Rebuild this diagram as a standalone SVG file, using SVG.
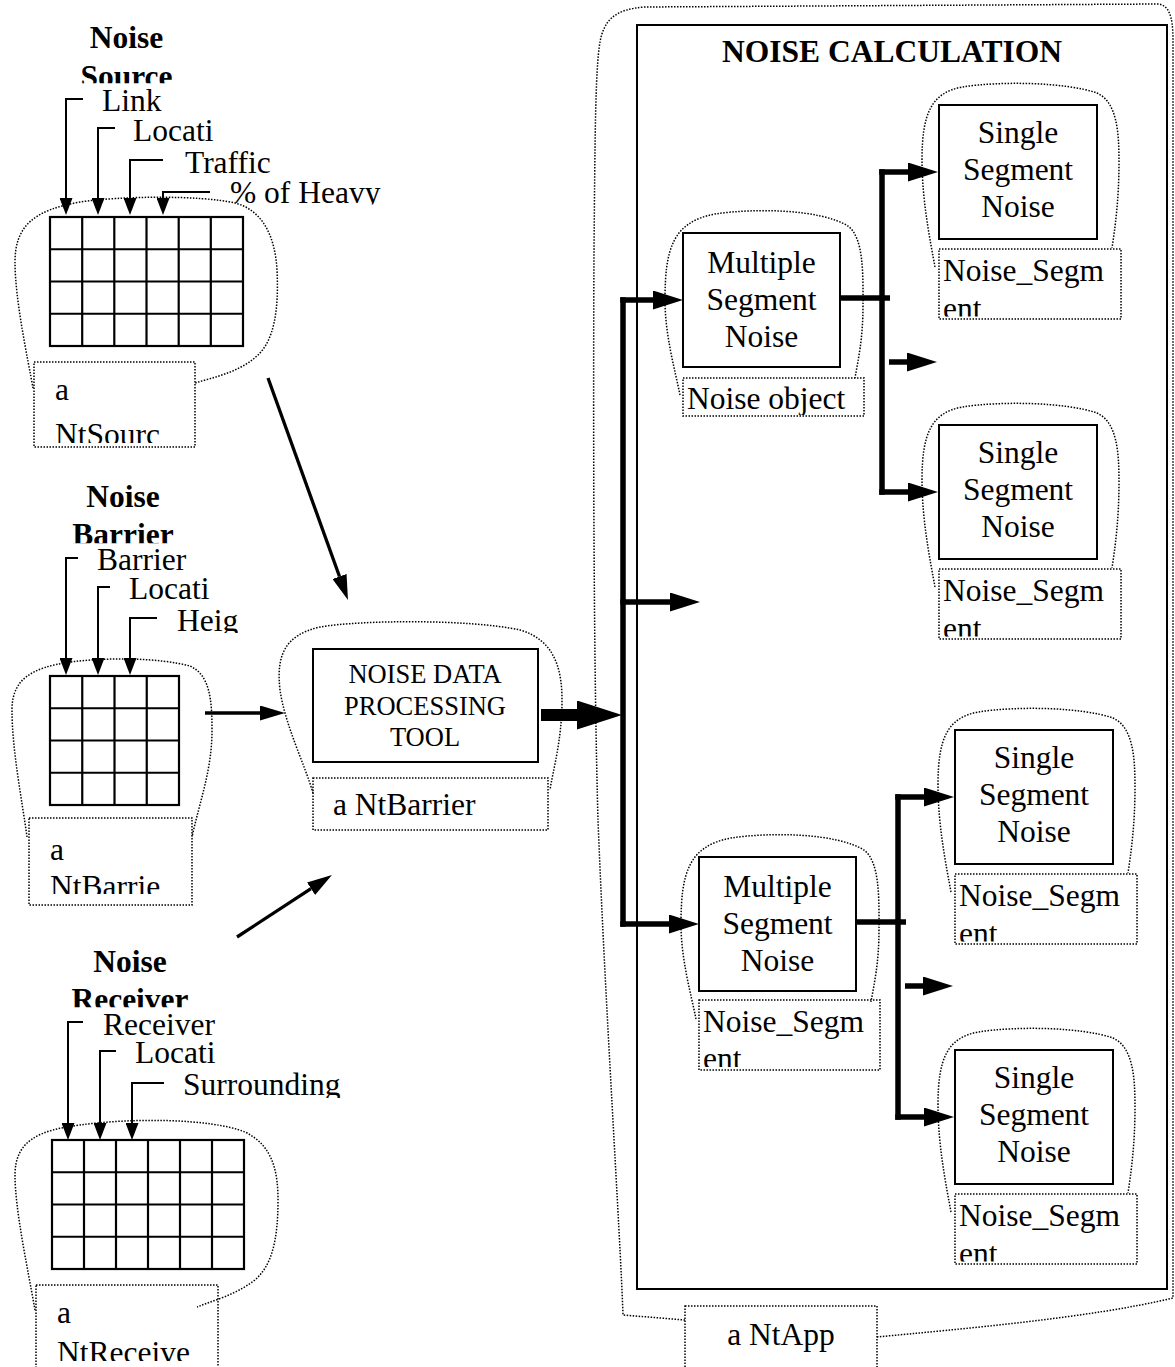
<svg xmlns="http://www.w3.org/2000/svg" width="1175" height="1367" viewBox="0 0 1175 1367">
<style>
.solid{fill:none;stroke:#000;stroke-width:2}
.dot{fill:none;stroke:#000;stroke-width:1.5;stroke-dasharray:1.5 1.5}
.t{font-family:"Liberation Serif","Times New Roman",serif;font-size:31.5px;fill:#000}
.b{font-weight:bold}
.mid{text-anchor:middle}
.tool{font-size:26.5px}
.lead{fill:none;stroke:#000;stroke-width:2}
.diag{fill:none;stroke:#000;stroke-width:3.3}
.br{fill:none;stroke:#000;stroke-width:5.5}
.big{fill:none;stroke:#000;stroke-width:12}
.grid{fill:none;stroke:#000;stroke-width:2.2}
</style>
<defs>
<marker id="ahLead" markerUnits="userSpaceOnUse" markerWidth="17" markerHeight="13" refX="0" refY="6.5" orient="auto" viewBox="0 0 17 13"><path d="M0,0 L17,6.5 L0,13 Z" fill="#000"/></marker>
<marker id="ahDiag" markerUnits="userSpaceOnUse" markerWidth="25" markerHeight="15" refX="0" refY="7.5" orient="auto" viewBox="0 0 25 15"><path d="M0,0 L25,7.5 L0,15 Z" fill="#000"/></marker>
<marker id="ahBr" markerUnits="userSpaceOnUse" markerWidth="30" markerHeight="19" refX="0" refY="9.5" orient="auto" viewBox="0 0 30 19"><path d="M0,0 L30,9.5 L0,19 Z" fill="#000"/></marker>
<marker id="ahBig" markerUnits="userSpaceOnUse" markerWidth="45" markerHeight="29" refX="0" refY="14.5" orient="auto" viewBox="0 0 45 29"><path d="M0,0 L45,14.5 L0,29 Z" fill="#000"/></marker>
<clipPath id="cSrcTitle"><rect x="0" y="0" width="400" height="83.3"/></clipPath>
<clipPath id="cSrcAttr"><rect x="0" y="170" width="400" height="34.5"/></clipPath>
<clipPath id="cSrcLbl"><rect x="34" y="362" width="161" height="81"/></clipPath>
<clipPath id="cBarTitle"><rect x="0" y="470" width="400" height="73.3"/></clipPath>
<clipPath id="cBarAttr"><rect x="0" y="600" width="400" height="33"/></clipPath>
<clipPath id="cBarLbl"><rect x="29" y="818" width="163" height="76"/></clipPath>
<clipPath id="cRecTitle"><rect x="0" y="930" width="400" height="77.3"/></clipPath>
<clipPath id="cRecAttr"><rect x="0" y="1065" width="400" height="33"/></clipPath>
<clipPath id="cRecLbl"><rect x="36" y="1285" width="182" height="76"/></clipPath>
<clipPath id="cSeg"><rect x="939" y="249" width="182" height="67.5"/></clipPath>
<clipPath id="cObj"><rect x="683" y="378" width="181" height="37"/></clipPath>
<clipPath id="cMSeg"><rect x="683" y="376" width="181" height="67"/></clipPath>
</defs>
<rect x="0" y="0" width="1175" height="1367" fill="#fff"/>

<g id="noise-source">
<g clip-path="url(#cSrcTitle)"><text class="t b mid" x="126.5" y="48">Noise</text><text class="t b mid" x="126.5" y="86.5">Source</text></g>
<text class="t" x="102" y="111">Link</text>
<text class="t" x="133" y="141">Locati</text>
<text class="t" x="185" y="172.7">Traffic</text>
<g clip-path="url(#cSrcAttr)"><text class="t" x="230" y="202.7">% of Heavy</text></g>
<path class="lead" d="M83 99 H66 V198" marker-end="url(#ahLead)"/>
<path class="lead" d="M115 128 H98 V198" marker-end="url(#ahLead)"/>
<path class="lead" d="M163 160 H130 V198" marker-end="url(#ahLead)"/>
<path class="lead" d="M210 192 H163 V198" marker-end="url(#ahLead)"/>
<path class="dot" d="M33 388 C28 360,15 300,15 262 C15 225,35 210,80 202 C120 196,200 195,235 203 C262 210,275 235,277 270 C279 310,274 340,258 355 C240 372,215 377,195 383"/>
<rect class="grid" x="50" y="217" width="193" height="129"/>
<path class="grid" d="M82.2 217V346 M114.3 217V346 M146.5 217V346 M178.7 217V346 M210.8 217V346 M50 249.25H243 M50 281.5H243 M50 313.75H243"/>
<rect class="dot" x="34" y="362" width="161" height="85"/>
<g clip-path="url(#cSrcLbl)"><text class="t" x="55" y="400">a</text><text class="t" x="55" y="445">NtSourc</text></g>
</g>

<g id="noise-barrier">
<g clip-path="url(#cBarTitle)"><text class="t b mid" x="123" y="506.7">Noise</text><text class="t b mid" x="123" y="545">Barrier</text></g>
<text class="t" x="97" y="570">Barrier</text>
<text class="t" x="129" y="599.3">Locati</text>
<g clip-path="url(#cBarAttr)"><text class="t" x="177" y="631">Heig</text></g>
<path class="lead" d="M78 558 H66 V658" marker-end="url(#ahLead)"/>
<path class="lead" d="M110 587 H98 V658" marker-end="url(#ahLead)"/>
<path class="lead" d="M157 618 H130 V658" marker-end="url(#ahLead)"/>
<path class="dot" d="M27 837 C22 800,12 750,12 710 C12 680,30 668,70 662 C110 657,160 658,190 666 C210 675,212 700,212 730 C212 770,200 800,192 837"/>
<rect class="grid" x="50" y="676" width="129" height="129"/>
<path class="grid" d="M82.25 676V805 M114.5 676V805 M146.75 676V805 M50 708.25H179 M50 740.5H179 M50 772.75H179"/>
<rect class="dot" x="29" y="818" width="163" height="87"/>
<g clip-path="url(#cBarLbl)"><text class="t" x="50" y="860">a</text><text class="t" x="50" y="897">NtBarrie</text></g>
</g>

<g id="noise-receiver">
<g clip-path="url(#cRecTitle)"><text class="t b mid" x="130" y="971.7">Noise</text><text class="t b mid" x="130" y="1010">Receiver</text></g>
<text class="t" x="103" y="1035">Receiver</text>
<text class="t" x="135" y="1063.3">Locati</text>
<g clip-path="url(#cRecAttr)"><text class="t" x="183" y="1095">Surrounding</text></g>
<path class="lead" d="M83 1022 H68 V1123" marker-end="url(#ahLead)"/>
<path class="lead" d="M116 1051 H100 V1123" marker-end="url(#ahLead)"/>
<path class="lead" d="M164 1083 H132 V1123" marker-end="url(#ahLead)"/>
<path class="dot" d="M35 1310 C28 1270,15 1210,15 1175 C15 1140,40 1130,80 1125 C130 1118,210 1118,245 1132 C272 1145,278 1170,278 1200 C278 1240,272 1265,255 1280 C235 1295,215 1300,197 1307"/>
<rect class="grid" x="52" y="1140" width="192" height="129"/>
<path class="grid" d="M84 1140V1269 M116 1140V1269 M148 1140V1269 M180 1140V1269 M212 1140V1269 M52 1172.25H244 M52 1204.5H244 M52 1236.75H244"/>
<rect class="dot" x="36" y="1285" width="182" height="95"/>
<g clip-path="url(#cRecLbl)"><text class="t" x="57" y="1323">a</text><text class="t" x="57" y="1363">NtReceive</text></g>
</g>

<g id="processing-tool">
<path class="dot" d="M313 793 C305 765,285 725,280 690 C276 655,285 635,320 627 C360 620,470 619,520 630 C555 640,562 670,562 700 C562 740,553 770,550 790"/>
<rect class="solid" x="313" y="649" width="225" height="113"/>
<text class="t tool mid" x="425" y="683.3">NOISE DATA</text>
<text class="t tool mid" x="425" y="715">PROCESSING</text>
<text class="t tool mid" x="425" y="745.7">TOOL</text>
<rect class="dot" x="313" y="778" width="235" height="52"/>
<text class="t" x="333" y="815">a NtBarrier</text>
</g>

<g id="noise-calculation">
<path class="dot" d="M685 1320 L623 1315 C620 1230,605 1000,598 820 C594 680,593 450,594 250 C595 150,595 70,600 42 C604 20,615 9,645 7 L1158 4 C1168 5,1173 14,1173 40 L1173 1298 C1090 1318,960 1329,877 1337"/>
<rect class="solid" x="637" y="25" width="530" height="1264"/>
<text class="t b mid" x="892" y="62">NOISE CALCULATION</text>
<rect class="dot" x="685" y="1306" width="192" height="80"/>
<text class="t mid" x="781" y="1345">a NtApp</text>
</g>

<g id="multiple-1">
<path class="dot" d="M680 395 C675 370,665 335,665 300 C665 250,672 222,715 214 C755 208,820 209,848 226 C864 238,863 275,863 305 C863 340,858 360,855 378"/>
<rect class="solid" x="683" y="233" width="157" height="134"/>
<text class="t mid" x="761.5" y="272.7">Multiple</text>
<text class="t mid" x="761.5" y="309.5">Segment</text>
<text class="t mid" x="761.5" y="346.5">Noise</text>
<rect class="dot" x="683" y="378" width="181" height="38"/>
<g clip-path="url(#cObj)"><text class="t" x="687" y="409">Noise object</text></g>
</g>

<g id="single-1">
<path class="dot" d="M935 267 C930 240,922 200,922 160 C922 112,932 93,962 87 C1000 81,1065 82,1097 93 C1117 102,1119 132,1119 162 C1119 200,1115 228,1112 248"/>
<rect class="solid" x="939" y="105" width="158" height="134"/>
<text class="t mid" x="1018" y="143">Single</text>
<text class="t mid" x="1018" y="180">Segment</text>
<text class="t mid" x="1018" y="217">Noise</text>
<rect class="dot" x="939" y="249" width="182" height="70"/>
<g clip-path="url(#cSeg)"><text class="t" x="943" y="281">Noise_Segm</text><text class="t" x="943" y="318.5">ent</text></g>
</g>

<g id="single-2" transform="translate(0,320)">
<path class="dot" d="M935 267 C930 240,922 200,922 160 C922 112,932 93,962 87 C1000 81,1065 82,1097 93 C1117 102,1119 132,1119 162 C1119 200,1115 228,1112 248"/>
<rect class="solid" x="939" y="105" width="158" height="134"/>
<text class="t mid" x="1018" y="143">Single</text>
<text class="t mid" x="1018" y="180">Segment</text>
<text class="t mid" x="1018" y="217">Noise</text>
<rect class="dot" x="939" y="249" width="182" height="70"/>
<g clip-path="url(#cSeg)"><text class="t" x="943" y="281">Noise_Segm</text><text class="t" x="943" y="318.5">ent</text></g>
</g>

<g id="multiple-2" transform="translate(16,624)">
<path class="dot" d="M680 395 C675 370,665 335,665 300 C665 250,672 222,715 214 C755 208,820 209,848 226 C864 238,863 275,863 305 C863 340,858 360,855 378"/>
<rect class="solid" x="683" y="233" width="157" height="134"/>
<text class="t mid" x="761.5" y="272.7">Multiple</text>
<text class="t mid" x="761.5" y="309.5">Segment</text>
<text class="t mid" x="761.5" y="346.5">Noise</text>
<rect class="dot" x="683" y="376" width="181" height="70"/>
<g clip-path="url(#cMSeg)"><text class="t" x="687" y="408">Noise_Segm</text><text class="t" x="687" y="445">ent</text></g>
</g>

<g id="single-3" transform="translate(16,625)">
<path class="dot" d="M935 267 C930 240,922 200,922 160 C922 112,932 93,962 87 C1000 81,1065 82,1097 93 C1117 102,1119 132,1119 162 C1119 200,1115 228,1112 248"/>
<rect class="solid" x="939" y="105" width="158" height="134"/>
<text class="t mid" x="1018" y="143">Single</text>
<text class="t mid" x="1018" y="180">Segment</text>
<text class="t mid" x="1018" y="217">Noise</text>
<rect class="dot" x="939" y="249" width="182" height="70"/>
<g clip-path="url(#cSeg)"><text class="t" x="943" y="281">Noise_Segm</text><text class="t" x="943" y="318.5">ent</text></g>
</g>

<g id="single-4" transform="translate(16,945)">
<path class="dot" d="M935 267 C930 240,922 200,922 160 C922 112,932 93,962 87 C1000 81,1065 82,1097 93 C1117 102,1119 132,1119 162 C1119 200,1115 228,1112 248"/>
<rect class="solid" x="939" y="105" width="158" height="134"/>
<text class="t mid" x="1018" y="143">Single</text>
<text class="t mid" x="1018" y="180">Segment</text>
<text class="t mid" x="1018" y="217">Noise</text>
<rect class="dot" x="939" y="249" width="182" height="70"/>
<g clip-path="url(#cSeg)"><text class="t" x="943" y="281">Noise_Segm</text><text class="t" x="943" y="318.5">ent</text></g>
</g>

<g id="connectors">
<path class="diag" d="M268 378 L339.5 576.5" marker-end="url(#ahDiag)"/>
<path class="diag" d="M205 713 H260" marker-end="url(#ahDiag)"/>
<path class="diag" d="M237 937 L311 888.7" marker-end="url(#ahDiag)"/>
<path class="big" d="M541 715 H577" marker-end="url(#ahBig)"/>
<path class="br" d="M623 297.25 V926.75"/>
<path class="br" d="M620.25 300 H653" marker-end="url(#ahBr)"/>
<path class="br" d="M620.25 602 H670" marker-end="url(#ahBr)"/>
<path class="br" d="M620.25 924 H669" marker-end="url(#ahBr)"/>
<path class="br" d="M840 298 H890"/>
<path class="br" d="M882 169.25 V494.75"/>
<path class="br" d="M879.25 172 H908" marker-end="url(#ahBr)"/>
<path class="br" d="M879.25 492 H908" marker-end="url(#ahBr)"/>
<path class="br" d="M889 362 H907" marker-end="url(#ahBr)"/>
<path class="br" d="M856 922 H906"/>
<path class="br" d="M898 794.25 V1119.75"/>
<path class="br" d="M895.25 797 H924" marker-end="url(#ahBr)"/>
<path class="br" d="M895.25 1117 H924" marker-end="url(#ahBr)"/>
<path class="br" d="M905 986 H923" marker-end="url(#ahBr)"/>
</g>
</svg>
